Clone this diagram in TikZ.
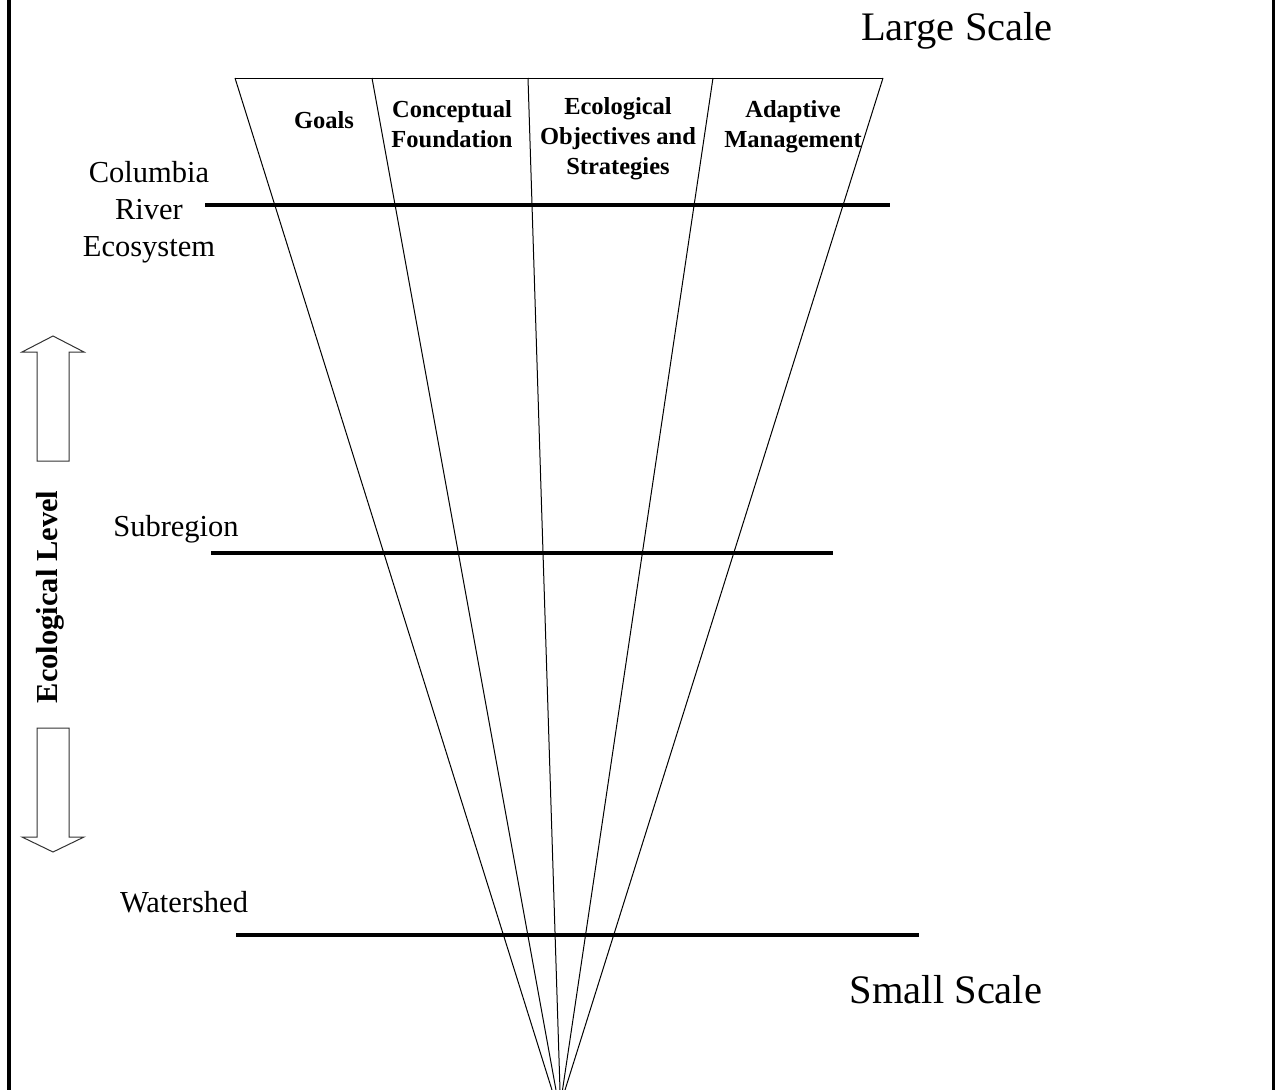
\documentclass[tikz,border=0pt]{standalone}
\usepackage{fontspec}
\setmainfont{Liberation Serif}
\begin{document}
\begin{tikzpicture}[x=1pt,y=-1pt,
  fanline/.style={line width=1pt,black},
  levelline/.style={line width=3.6pt,black},
  border/.style={line width=4pt,black},
  blockarrow/.style={line width=1pt,draw=black!80,fill=white},
  head/.style={font=\bfseries\fontsize{24.5}{30}\selectfont,align=center,anchor=base,inner sep=0pt},
  level/.style={font=\fontsize{30.5}{37}\selectfont,align=center,anchor=base,inner sep=0pt},
  scale label/.style={font=\fontsize{40.5}{48}\selectfont,anchor=base,inner sep=0pt}]
\useasboundingbox (0,0) rectangle (1275,1090);
\fill[white] (0,0) rectangle (1275,1090);
% borders
\draw[border] (9,0) -- (9,1090);
\draw[border] (1274,0) -- (1274,1090);
% fan coordinates
\coordinate (t1) at (235,78);
\coordinate (t2) at (372,78);
\coordinate (t3) at (528,78);
\coordinate (t4) at (713,78);
\coordinate (t5) at (883,78);
\coordinate (b1) at (552,1090);
\coordinate (b2) at (556,1090);
\coordinate (b3) at (560,1090);
\coordinate (b4) at (562.5,1090);
\coordinate (b5) at (565,1090);
\draw[fanline] (t1) -- (t5);
\draw[fanline] (t1) -- (b1);
\draw[fanline] (t2) -- (b2);
\draw[fanline] (t3) -- (b3);
\draw[fanline] (t4) -- (b4);
\draw[fanline] (t5) -- (b5);
% level lines
\coordinate (c1) at (205,205);
\coordinate (c2) at (890,205);
\coordinate (s1) at (211,553);
\coordinate (s2) at (833,553);
\coordinate (w1) at (236,935);
\coordinate (w2) at (919,935);
\draw[levelline] (c1) -- (c2);
\draw[levelline] (s1) -- (s2);
\draw[levelline] (w1) -- (w2);
% header texts (base anchor = baseline of last line)
\node[head] (goals) at (324,128) {Goals};
\node[head] (concept) at (452,147) {Conceptual\\Foundation};
\node[head] (objectives) at (618,174) {Ecological\\Objectives and\\Strategies};
\node[head] (adaptive) at (793,147) {Adaptive\\Management};
% level labels
\node[level] (columbia) at (149,256) {Columbia\\River\\Ecosystem};
\node[level] (subregion) at (176,536) {Subregion};
\node[level] (watershed) at (184,912) {Watershed};
% scale labels
\node[scale label] (large) at (957,40) {Large Scale};
\node[scale label] (small) at (946,1003) {Small Scale};
% ecological level
\node[font=\bfseries\fontsize{30.5}{36}\selectfont,rotate=90,inner sep=0pt] (eco) at (50,597) {Ecological Level};
% block arrows
\draw[blockarrow] (53,336) -- (84,352) -- (69,352) -- (69,461) -- (37,461) -- (37,352) -- (22,352) -- cycle;
\draw[blockarrow] (53,852) -- (84,837) -- (69,837) -- (69,728) -- (37,728) -- (37,837) -- (22,837) -- cycle;
\end{tikzpicture}
\end{document}
